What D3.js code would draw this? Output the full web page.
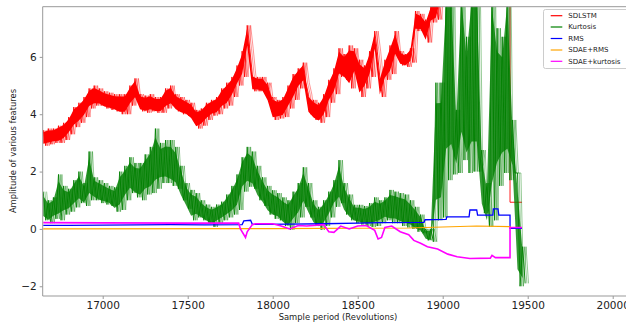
<!DOCTYPE html>
<html><head><meta charset="utf-8">
<script src="https://cdn.jsdelivr.net/npm/d3@7"></script>
<style>
html,body{margin:0;padding:0;background:#fff;}
svg{display:block;font-family:"DejaVu Sans",sans-serif;}
</style></head>
<body>
<svg id="chart" width="626" height="325"></svg>
<script>
// ---- data ----
const binStart = 16650, binStep = 30;
const sdlstmLo = [2.9,2.95,3.0,3.0,3.1,3.3,3.55,3.7,3.9,4.2, 4.3,4.3,4.2,4.15,4.1,4.0,4.0,4.3,4.5,4.1, 4.05,4.1,4.05,4.05,4.2,4.3,4.1,4.0,3.95,3.8, 3.5,3.6,3.8,3.95,4.0,4.2,4.3,4.6,5.0,5.3, 6.3,4.8,4.8,4.75,4.4,3.8,3.85,3.9,4.2,4.5, 4.9,5.1,4.0,3.8,3.7,3.9,4.4,4.7,5.3,5.2, 4.9,5.4,4.6,4.9,5.3,6.2,4.6,5.2,5.4,6.0, 5.7,5.65,5.8,6.9,6.9,6.5,7.2,7.3, 8,8,8,8,8,8,8,8,8,8,8,8,8,8];
const sdlstmHi = [3.45,3.5,3.5,3.6,3.7,3.9,4.25,4.4,4.6,4.9, 5.0,4.9,4.8,4.75,4.7,4.7,4.7,5.0,5.25,4.7, 4.65,4.7,4.6,4.6,4.9,5.0,4.7,4.6,4.5,4.4, 4.15,4.2,4.4,4.5,4.6,4.9,5.1,5.3,5.7,6.2, 7.1,5.4,5.3,5.3,5.1,4.6,4.5,4.6,5.0,5.4, 5.6,5.8,4.7,4.5,4.4,4.7,5.2,5.6,6.3,6.1, 6.4,6.3,5.9,5.7,6.2,6.9,5.3,5.9,6.4,6.9, 6.2,6.1,6.3,7.6,7.5,7.3,7.8,7.9, 9,9,9,9,9,9,9,9,9,9,9,9,9,9];
const sdlstmTailRev = [19396, 19396, 19466];
const sdlstmTailVal = [9, 0.93, 0.93];

const kurtLo = [0.3,0.2,0.35,0.3,0.5,0.6,0.75,0.9,0.8,1.0, 1.0,0.9,0.85,0.8,0.6,0.66,1.0,1.25,1.1,1.0, 1.2,1.25,1.4,1.6,1.6,1.5,1.4,1.0,0.7,0.3, 0.4,0.3,0.2,0.07,0.2,0.3,0.4,0.5,0.66,1.3, 1.47,1.4,1.0,0.8,0.5,0.35,0.3,0.1,-0.03,0.2, 0.4,0.77,0.4,0.1,-0.03,0.1,0.4,0.77,0.9,0.5, 0.3,0.2,0.15,0.1,0.07,0.1,0.2,0.3,0.2,0.2, 0.1,0.05,0.0,-0.1,-0.15,-0.4,-0.45,0.3,0.4,1.7, 1.9,1.95,2.4,1.95,2.0,2.0,0.55,0.07,0.3,1.5, 1.95,1.7,1.95,-2.0,-1.9];
const kurtHi = [1.3,1.0,1.1,1.9,1.5,1.4,1.7,2.0,1.6,2.7, 1.8,1.7,1.6,1.5,1.45,2.0,2.2,2.5,2.3,2.3, 2.6,2.86,3.5,3.0,3.1,3.1,2.86,2.2,1.6,1.36, 1.25,1.0,0.85,0.77,0.85,0.95,1.2,1.5,1.9,2.5, 2.86,2.7,2.2,1.8,1.5,1.35,1.25,1.1,1.0,1.3, 1.6,2.15,1.6,1.0,0.77,1.0,1.3,1.7,2.4,1.6, 1.2,0.84,0.84,0.8,0.9,1.1,1.0,1.1,1.36,1.3, 1.25,1.2,1.0,0.77,0.5,0.0,0.0,5.1,5.1,9, 9,4.15,9,6.7,9,9,2.75,1.6,9,7, 6.7,9,3.8,1.95,-0.62];

const rmsRev = [16650,16800,17000,17200,17400,17600,17820,17830,17870,17880,18100,18300,18500,18632,18890,18896,19020,19024,19155,19160,19200,19205,19295,19298,19325,19330,19396,19396,19466];
const rmsVal = [0.12,0.12,0.13,0.14,0.15,0.14,0.15,0.28,0.3,0.16,0.17,0.18,0.2,0.22,0.23,0.32,0.33,0.42,0.42,0.66,0.66,0.48,0.48,0.7,0.7,0.48,0.48,0.02,0.02];

const sdaeRmsRev = [16650,18000,18800,19200,19396,19396,19466];
const sdaeRmsVal = [0.0,0.01,0.03,0.1,0.08,0.05,0.05];

const sdaeKurtRev = [16650,17000,17500,17800,17810,17840,17850,17880,17900,18000, 18050,18100,18150,18200,18300,18330,18360,18400,18450,18500, 18550,18600,18620,18640,18660,18700,18750,18800,18830,18870, 18910,18970,19030,19085,19160,19280,19290,19310,19396,19396, 19466];
const sdaeKurtVal = [0.22,0.21,0.2,0.2,0.0,-0.3,-0.1,0.15,0.18,0.18, 0.1,0.0,0.12,0.1,0.15,-0.1,-0.12,0.1,0.0,0.1, 0.12,-0.05,-0.35,-0.3,0.05,0.1,-0.1,-0.2,-0.4,-0.5, -0.62,-0.7,-0.88,-0.97,-1.03,-1.02,-0.92,-1.0,-1.0,0.05, 0.05];

const xTicks = [17000,17500,18000,18500,19000,19500,20000];
const yTicks = [-2,0,2,4,6];
const seriesNames = ["SDLSTM","Kurtosis","RMS","SDAE+RMS","SDAE+kurtosis"];
const seriesColors = ["#ff0000","#008000","#0000ff","#ffa500","#ff00ff"];

// ---- layout ----
const svg = d3.select("#chart");
const L = 42.7, T = 6.7, B = 296;
const x = d3.scaleLinear().domain([16647, 20100]).range([L, L + 3453*0.17]);
const y = d3.scaleLinear().domain([-2.34, 7.75]).range([B, T]);

svg.append("clipPath").attr("id","clip").append("rect")
  .attr("x", L).attr("y", T).attr("width", 700).attr("height", B - T);

const plot = svg.append("g").attr("clip-path","url(#clip)");

function zig(lo, hi, phase){
  const pts = [];
  lo.forEach((v,i)=>{
    const r = binStart + i*binStep + phase;
    pts.push([r, hi[i]]);
    pts.push([r + binStep/2, v]);
  });
  return pts;
}
const line = d3.line().x(d=>x(d[0])).y(d=>y(d[1]));
function band(lo, hi, color, op, inset){
  const data = lo.map((v,i)=>({r: binStart + i*binStep, a: v + (hi[i]-v)*inset, b: hi[i] - (hi[i]-v)*inset}));
  plot.append("path").datum(data)
    .attr("d", d3.area().x(d=>x(d.r)).y0(d=>y(d.a)).y1(d=>y(d.b)))
    .attr("fill", color).attr("opacity", op);
}
function noisy(lo, hi, color, op, inset, tail){
  band(lo, hi, color, op, inset);
  [0, binStep/3, 2*binStep/3].forEach((ph, k)=>{
    let pts = zig(lo, hi, ph);
    if (tail && k === 0) pts = pts.concat(tail);
    plot.append("path").datum(pts).attr("d", line).attr("fill","none")
      .attr("stroke", color).attr("stroke-width", k === 0 ? 0.9 : 0.6)
      .attr("stroke-opacity", k === 0 ? 1 : 0.7);
  });
}

// SDLSTM
noisy(sdlstmLo, sdlstmHi, seriesColors[0], 1, 0.12, sdlstmTailRev.map((r,i)=>[r, sdlstmTailVal[i]]));
// Kurtosis
noisy(kurtLo, kurtHi, seriesColors[1], 0.8, 0.15, null);

// RMS
plot.append("path").datum(rmsRev.map((r,i)=>[r, rmsVal[i]])).attr("d", line).attr("fill","none")
  .attr("stroke", seriesColors[2]).attr("stroke-width", 1.3);
// SDAE+RMS
plot.append("path").datum(sdaeRmsRev.map((r,i)=>[r, sdaeRmsVal[i]])).attr("d", line).attr("fill","none")
  .attr("stroke", seriesColors[3]).attr("stroke-width", 1.1);
// SDAE+kurtosis
plot.append("path").datum(sdaeKurtRev.map((r,i)=>[r, sdaeKurtVal[i]])).attr("d", line).attr("fill","none")
  .attr("stroke", seriesColors[4]).attr("stroke-width", 1.6);

// ---- axes ----
const spine = "#999";
const xAxis = svg.append("g").attr("transform", `translate(0,${B})`)
  .call(d3.axisBottom(x).tickValues(xTicks).tickFormat(d3.format("d")).tickSize(3).tickPadding(3));
const yAxis = svg.append("g").attr("transform", `translate(${L},0)`)
  .call(d3.axisLeft(y).tickValues(yTicks).tickFormat(d=> d<0 ? "\u2212"+Math.abs(d) : d).tickSize(3).tickPadding(3));
[xAxis, yAxis].forEach(a=>{
  a.select(".domain").remove();
  a.selectAll(".tick line").attr("stroke", spine);
  a.selectAll(".tick text").attr("fill","#222").style("font-size","10.5px").style("font-family","DejaVu Sans");
});
svg.append("line").attr("x1",L).attr("x2",L).attr("y1",T).attr("y2",B).attr("stroke",spine).attr("stroke-width",1);
svg.append("line").attr("x1",L).attr("x2",640).attr("y1",B).attr("y2",B).attr("stroke",spine).attr("stroke-width",1);
svg.append("line").attr("x1",L).attr("x2",640).attr("y1",T).attr("y2",T).attr("stroke",spine).attr("stroke-width",1);

svg.append("text").attr("x", 338).attr("y", 320).attr("text-anchor","middle")
  .style("font-size","8.4px").attr("fill","#222").text("Sample period (Revolutions)");
svg.append("text").attr("transform","translate(16,151) rotate(-90)").attr("text-anchor","middle")
  .style("font-size","8.4px").attr("fill","#222").text("Amplitude of various features");

// ---- legend ----
const lg = svg.append("g");
lg.append("rect").attr("x",543.5).attr("y",9.5).attr("width",100).attr("height",59).attr("rx",2)
  .attr("fill","#fff").attr("fill-opacity",0.85).attr("stroke","#ccc");
const rowY = [15.7, 27, 38.5, 50, 61.3];
seriesNames.forEach((n,i)=>{
  lg.append("line").attr("x1",550.7).attr("x2",562.3).attr("y1",rowY[i]).attr("y2",rowY[i])
    .attr("stroke",seriesColors[i]).attr("stroke-width",1.2);
  lg.append("text").attr("x",568.3).attr("y",rowY[i]).attr("dy","0.35em")
    .style("font-size","7px").attr("fill","#222").text(n);
});
</script>
</body></html>
